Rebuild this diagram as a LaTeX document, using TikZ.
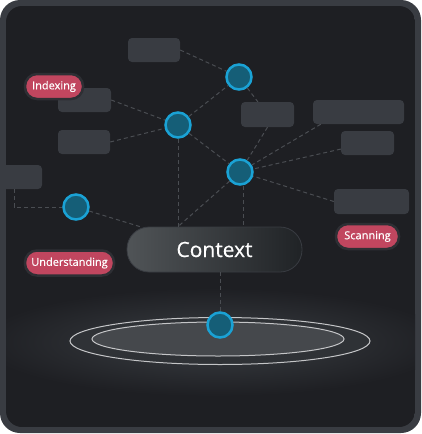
\documentclass[tikz,border=0pt]{standalone}
\usepackage{fontspec}
\setmainfont{Open Sans}[FakeBold=0.5]
\definecolor{bgc}{HTML}{1E1F23}
\definecolor{framec}{HTML}{393C42}
\definecolor{boxc}{HTML}{393C42}
\definecolor{linkc}{HTML}{4A4D52}
\definecolor{hubfill}{HTML}{155E77}
\definecolor{hubring}{HTML}{1AA2D5}
\definecolor{tagred}{HTML}{C1465F}
\definecolor{tagring}{HTML}{2E2F34}
\definecolor{glowc}{HTML}{3A3E43}
\definecolor{pilll}{HTML}{505457}
\definecolor{pillr}{HTML}{202326}
\definecolor{platc}{HTML}{2F3236}
\definecolor{platin}{HTML}{45484C}
\definecolor{rimc}{HTML}{C4C5C7}
\tikzset{
  block/.style={fill=boxc, rounded corners=4pt, inner sep=0pt, minimum height=24pt},
  hub/.style={circle, fill=hubfill, draw=hubring, line width=2.5pt, minimum size=25pt, inner sep=0pt},
  tag/.style={fill=tagred, draw=tagring, line width=2.5pt, rounded corners=12pt, text=white, inner sep=0pt, minimum height=25pt, font=\fontsize{11}{13}\selectfont},
  link/.style={draw=linkc, line width=1pt, dash pattern=on 4pt off 3pt},
}
\begin{document}
\begin{tikzpicture}[x=1pt,y=-1pt]
\useasboundingbox (0,0) rectangle (422,434);
\fill[framec, rounded corners=20pt] (0,0) rectangle (421,433);
\begin{scope}
\clip[rounded corners=16pt] (6,6) rectangle (415,427);
\fill[bgc] (6,6) rectangle (415,427);
\shade[inner color=glowc, outer color=bgc] (214,342) ellipse [x radius=235, y radius=54];
% grey blocks
\node[block, minimum width=52pt] (bA) at (154,50) {};
\node[block, minimum width=53pt] (bB) at (84.5,100) {};
\node[block, minimum width=52pt] (bC) at (84,142) {};
\node[block, minimum width=56pt] (bD) at (14,177) {};
\node[block, minimum width=53pt, minimum height=25pt] (bE) at (267.5,114.5) {};
\node[block, minimum width=91pt] (bF) at (358.5,112) {};
\node[block, minimum width=53pt] (bG) at (367.5,143) {};
\node[block, minimum width=75pt, minimum height=25pt] (bH) at (371.5,201.5) {};
% platform
\filldraw[fill=platc, draw=rimc, line width=1pt] (220,341) ellipse [x radius=150, y radius=23.5];
\filldraw[fill=platin, draw=rimc, line width=1pt] (218,339) ellipse [x radius=126, y radius=17];
\node[rectangle, rounded corners=22pt, minimum width=175pt, minimum height=45pt, left color=pilll, right color=pillr, draw=framec, line width=0.8pt, text=white, font=\fontsize{21}{24}\selectfont] (ctx) at (214.5,249.5) {Context};
% hubs
\node[hub] (n1) at (239,77) {};
\node[hub] (n2) at (178,125) {};
\node[hub] (n3) at (240,172) {};
\node[hub] (n4) at (76,207) {};
\node[hub] (n5) at (220,325) {};
% links
\draw[link] (bA.east) -- (n1);
\draw[link] (bB.east) -- (n2);
\draw[link] (bC.east) -- (n2);
\draw[link] (n2) -- (n1);
\draw[link] (n2) -- (n3);
\draw[link] (n1) -- (bE);
\draw[link] (bE.south) -- (n3);
\draw[link] ([xshift=8pt]bF.south west) -- (n3);
\draw[link] (bG) -- (n3);
\draw[link] (bH.west) -- (n3);
\draw[link] (n2) -- (n2 |- ctx.north);
\draw[link] (n3) -- (n2 |- ctx.north);
\draw[link] ([xshift=3pt]n3.south) -- ([xshift=3pt]n3.south |- ctx.north);
\draw[link] (bD.south) |- (n4);
\draw[link] (n4) -- (ctx);
\draw[link] (n5 |- ctx.south) -- (n5);
% tags
\node[tag, minimum width=58pt] (tIdx) at (54,86.5) {Indexing};
\node[tag, minimum width=89pt] (tUnd) at (69.5,263) {Understanding};
\node[tag, minimum width=63pt] (tScan) at (367.5,236.5) {Scanning};
\end{scope}
\end{tikzpicture}
\end{document}
